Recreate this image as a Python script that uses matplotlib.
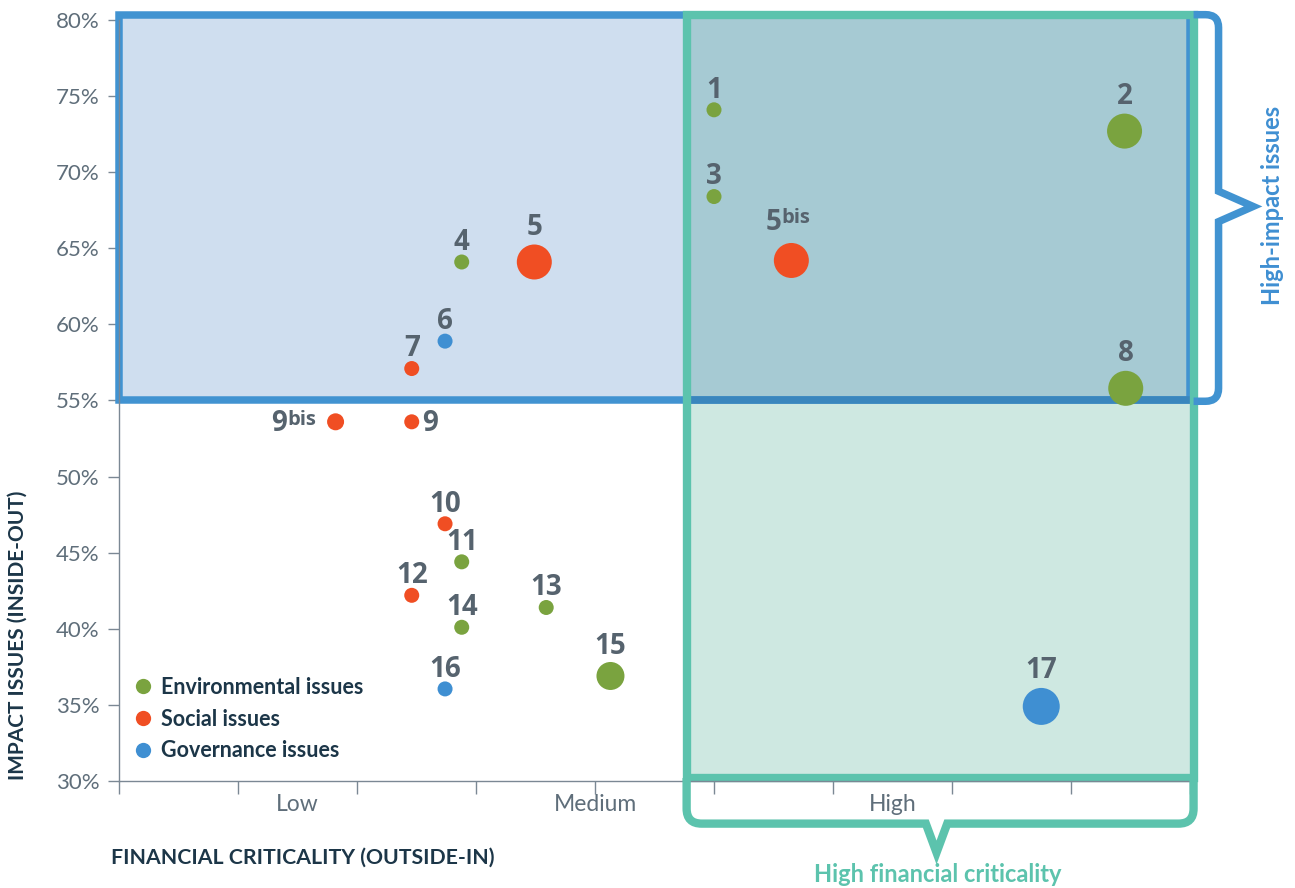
import matplotlib
matplotlib.use("Agg")
import matplotlib.pyplot as plt
import numpy as np
from matplotlib.patches import Rectangle, PathPatch
from matplotlib.path import Path
from matplotlib.lines import Line2D
from matplotlib.transforms import IdentityTransform

plt.rcParams['font.family'] = ['Lato', 'DejaVu Sans']

# --- data ---
issue_ids = ['1', '2', '3', '4', '5', '5bis', '6', '7', '8', '9bis', '9',
             '10', '11', '12', '13', '14', '15', '16', '17']
financial = [5.0, 8.45, 5.0, 2.88, 3.49, 5.65, 2.74, 2.46, 8.46, 1.82, 2.46,
             2.74, 2.88, 2.46, 3.59, 2.88, 4.13, 2.74, 7.75]
impact = [74.1, 72.7, 68.4, 64.1, 64.1, 64.2, 58.9, 57.1, 55.8, 53.6, 53.6,
          46.9, 44.4, 42.2, 41.4, 40.1, 36.9, 36.05, 34.9]
category = ['E', 'E', 'E', 'E', 'S', 'S', 'G', 'S', 'E', 'S', 'S',
            'S', 'E', 'S', 'E', 'E', 'E', 'G', 'G']
bubble_px = [15, 35, 15, 15, 35, 35, 15, 15, 35, 17, 15,
             15, 15, 15, 15, 15, 28, 15, 37]

categories = ['E', 'S', 'G']
category_names = ['Environmental issues', 'Social issues', 'Governance issues']
category_colors = {'E': '#7aa33f', 'S': '#f04e23', 'G': '#3f8fd2'}

y_ticks = [30, 35, 40, 45, 50, 55, 60, 65, 70, 75, 80]
x_levels = ['Low', 'Medium', 'High']
x_level_pos = [1.5, 4.0, 6.5]

impact_threshold = 55
financial_threshold = 4.77

# --- colours ---
BLUE = '#4193d1'
TEAL = '#5cc3ad'
GREY = '#5f6e7a'
NAVY = '#1c3648'
LABEL = '#56636e'

W, H = 1295, 888
fig = plt.figure(figsize=(W / 100, H / 100), dpi=100)
ax = fig.add_axes([119 / W, 1 - 781 / H, (1190 - 119) / W, (781 - 20) / H])
ax.set_xlim(0, 9)
ax.set_ylim(30, 80)

# boxes
top = 80.35
teal_right = 9.03
teal_bottom = 30.2
ax.add_patch(Rectangle((0, impact_threshold), 9, top - impact_threshold,
                       facecolor='#cfdeef', edgecolor='none', zorder=1, clip_on=False))
ax.add_patch(Rectangle((financial_threshold, impact_threshold), teal_right - financial_threshold,
                       top - impact_threshold, facecolor='#a6cad3', edgecolor='none',
                       zorder=1.1, clip_on=False))
ax.add_patch(Rectangle((financial_threshold, teal_bottom), teal_right - financial_threshold,
                       impact_threshold - teal_bottom, facecolor='#cee8e1', edgecolor='none',
                       zorder=1.1, clip_on=False))
ax.add_patch(Rectangle((0, impact_threshold), 9, top - impact_threshold,
                       facecolor='none', edgecolor=BLUE, lw=5.4, zorder=2, clip_on=False))
ax.add_patch(Rectangle((financial_threshold, teal_bottom), teal_right - financial_threshold,
                       top - teal_bottom, facecolor='none', edgecolor=TEAL, lw=6,
                       zorder=2.1, clip_on=False))
# blue edge looks darker where it crosses the teal area
ax.plot([financial_threshold, teal_right], [impact_threshold, impact_threshold],
        color='#3a86bd', lw=5.4, zorder=2.05, solid_capstyle='butt', clip_on=False)


def bracket(points, radii, color, lw, z):
    pts = ax.transData.transform(points)
    verts = [pts[0]]
    codes = [Path.MOVETO]
    for i in range(1, len(pts) - 1):
        p = pts[i]
        r = radii[i]
        if r == 0:
            verts.append(p)
            codes.append(Path.LINETO)
            continue
        u1 = (p - pts[i - 1]) / np.linalg.norm(p - pts[i - 1])
        u2 = (pts[i + 1] - p) / np.linalg.norm(pts[i + 1] - p)
        verts += [p - r * u1, p, p + r * u2]
        codes += [Path.LINETO, Path.CURVE3, Path.CURVE3]
    verts.append(pts[-1])
    codes.append(Path.LINETO)
    fig.add_artist(PathPatch(Path(verts, codes), transform=IdentityTransform(),
                             facecolor='none', edgecolor=color, lw=lw,
                             joinstyle='miter', capstyle='butt', zorder=z))


# high-impact bracket (right)
bx = 9.24
bracket([(teal_right, top), (bx, top), (bx, 68.75), (9.53, 67.75), (bx, 66.75),
         (bx, 54.95), (teal_right, 54.95)],
        [0, 13, 0, 0, 0, 13, 0], BLUE, 5.4, 2)
# high financial criticality bracket (bottom)
by = 27.2
bracket([(financial_threshold, teal_bottom), (financial_threshold, by), (6.78, by),
         (6.87, 25.3), (6.96, by), (teal_right, by), (teal_right, teal_bottom)],
        [0, 15, 0, 0, 0, 15, 0], TEAL, 6, 2)

# axes styling
for s in ['top', 'right']:
    ax.spines[s].set_visible(False)
for s in ['left', 'bottom']:
    ax.spines[s].set_color('#7b8894')
    ax.spines[s].set_linewidth(1)
ax.set_xticks(range(10))
ax.set_xticklabels([])
ax.set_yticks(y_ticks)
ax.set_yticklabels([f'{v}%' for v in y_ticks])
ax.tick_params(axis='x', length=9, width=1, color='#7b8894', direction='out')
ax.tick_params(axis='y', length=8, width=1, color='#7b8894', direction='out',
               labelsize=16, labelcolor=GREY, pad=6)
for lvl, pos in zip(x_levels, x_level_pos):
    ax.text(pos, 29.15, lvl, ha='center', va='top', fontsize=16.5, color=GREY)

# points
colors = [category_colors[c] for c in category]
sizes = [(d * 0.72) ** 2 for d in bubble_px]
ax.scatter(financial, impact, s=sizes, c=colors, linewidths=0, zorder=5, clip_on=False)

# labels
label_kw = dict(fontsize=20, fontweight='bold', color=LABEL, zorder=6,
                family=['Open Sans', 'DejaVu Sans'],
                textcoords='offset pixels', annotation_clip=False)
sup_kw = dict(fontsize=14.5, fontweight='bold', color=LABEL, zorder=6,
              family=['Open Sans', 'DejaVu Sans'],
              textcoords='offset pixels', annotation_clip=False)
for lab, xv, yv, d in zip(issue_ids, financial, impact, bubble_px):
    r = d / 2
    if lab == '9':
        ax.annotate(lab, (xv, yv), xytext=(r + 3, -2), ha='left', va='center', **label_kw)
    elif lab == '9bis':
        sup = ax.annotate('bis', (xv, yv), xytext=(-r - 11, 2), ha='right', va='center', **sup_kw)
        ax.annotate('9', (0, 0.5), xycoords=sup, xytext=(0, -4), ha='right', va='center', **label_kw)
    elif lab.endswith('bis'):
        main = ax.annotate(lab[:-3], (xv, yv), xytext=(-18, 1.5 * r - 3), ha='center',
                           va='bottom', **label_kw)
        ax.annotate('bis', (1, 0), xycoords=main, xytext=(0, 9), ha='left', va='bottom', **sup_kw)
    else:
        ax.annotate(lab, (xv, yv), xytext=(0, 1.5 * r - 6), ha='center', va='bottom', **label_kw)

# legend
handles = [Line2D([], [], marker='o', ls='', color=category_colors[c], markersize=11,
                  markeredgewidth=0) for c in categories]
leg = ax.legend(handles, category_names, loc='upper left', bbox_to_anchor=(0.012, 0.137),
                frameon=False, fontsize=15.5, handlelength=1.0, handletextpad=0.35,
                labelspacing=0.5, borderpad=0, borderaxespad=0)
for t in leg.get_texts():
    t.set_color(NAVY)
    t.set_fontweight('bold')
leg.set_zorder(7)

# axis titles and annotations
fig.text(18 / W, 1 - 780 / H, 'IMPACT ISSUES (INSIDE-OUT)', rotation=90, ha='center',
         va='bottom', fontsize=15, fontweight='bold', color=NAVY)
fig.text(111 / W, 1 - 858 / H, 'FINANCIAL CRITICALITY (OUTSIDE-IN)', ha='left',
         va='center', fontsize=15.3, fontweight='bold', color=NAVY)
fig.text(1272 / W, 1 - 205 / H, 'High-impact issues', rotation=90, ha='center',
         va='center', fontsize=17, fontweight='bold', color='#3f8fd2')
fig.text(938 / W, 1 - 874 / H, 'High financial criticality', ha='center',
         va='center', fontsize=17, fontweight='bold', color=TEAL)

fig.savefig('out.png', dpi=100)
